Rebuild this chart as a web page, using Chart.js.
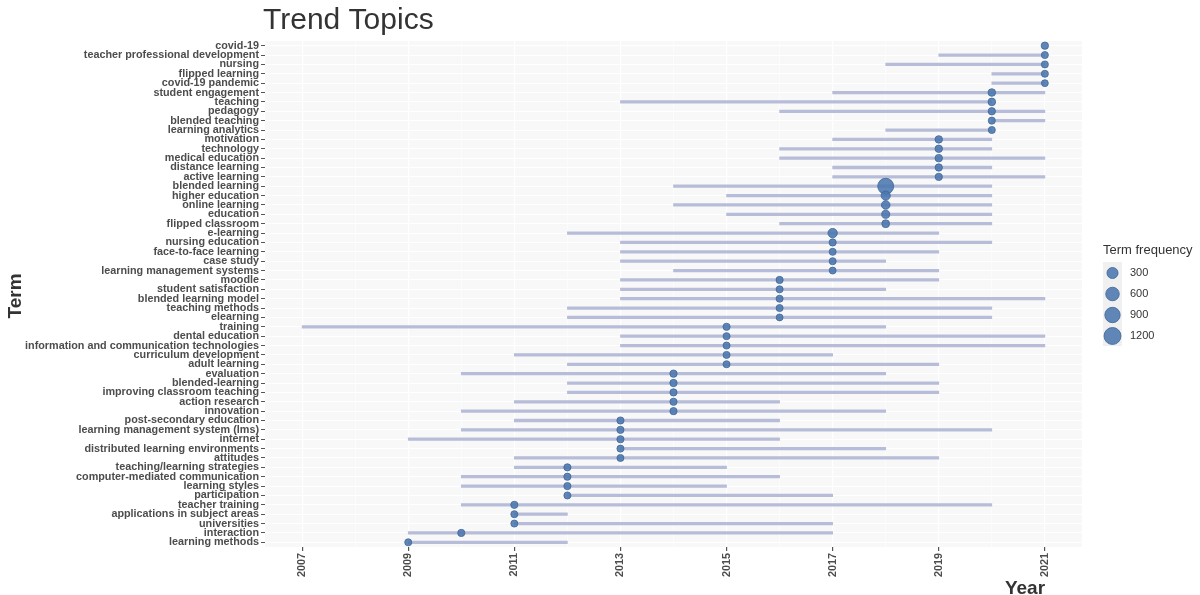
<!DOCTYPE html>
<html>
<head>
<meta charset="utf-8">
<script src="https://cdn.jsdelivr.net/npm/chart.js@4.4.1/dist/chart.umd.min.js"></script>
<style>
  body { margin: 0; background: #fff; }
  #wrap { width: 1200px; height: 595px; position: relative; }
</style>
</head>
<body>
<div id="wrap"><canvas id="trend"></canvas></div>
<script>
const terms = [
    'covid-19', 'teacher professional development', 'nursing', 'flipped learning', 'covid-19 pandemic',
    'student engagement', 'teaching', 'pedagogy', 'blended teaching', 'learning analytics',
    'motivation', 'technology', 'medical education', 'distance learning', 'active learning',
    'blended learning', 'higher education', 'online learning', 'education', 'flipped classroom',
    'e-learning', 'nursing education', 'face-to-face learning', 'case study', 'learning management systems',
    'moodle', 'student satisfaction', 'blended learning model', 'teaching methods', 'elearning',
    'training', 'dental education', 'information and communication technologies', 'curriculum development', 'adult learning',
    'evaluation', 'blended-learning', 'improving classroom teaching', 'action research', 'innovation',
    'post-secondary education', 'learning management system (lms)', 'internet', 'distributed learning environments', 'attitudes',
    'teaching/learning strategies', 'computer-mediated communication', 'learning styles', 'participation', 'teacher training',
    'applications in subject areas', 'universities', 'interaction', 'learning methods'
];

// first quartile year, median year, third quartile year
const startYear = [
    2021, 2019, 2018, 2020, 2020,
    2017, 2013, 2016, 2020, 2018,
    2017, 2016, 2016, 2017, 2017,
    2014, 2015, 2014, 2015, 2016,
    2012, 2013, 2013, 2013, 2014,
    2013, 2013, 2013, 2012, 2012,
    2007, 2013, 2013, 2011, 2012,
    2010, 2012, 2012, 2011, 2010,
    2011, 2010, 2009, 2013, 2011,
    2011, 2010, 2010, 2012, 2010,
    2011, 2011, 2009, 2009
];
const medianYear = [
    2021, 2021, 2021, 2021, 2021,
    2020, 2020, 2020, 2020, 2020,
    2019, 2019, 2019, 2019, 2019,
    2018, 2018, 2018, 2018, 2018,
    2017, 2017, 2017, 2017, 2017,
    2016, 2016, 2016, 2016, 2016,
    2015, 2015, 2015, 2015, 2015,
    2014, 2014, 2014, 2014, 2014,
    2013, 2013, 2013, 2013, 2013,
    2012, 2012, 2012, 2012, 2011,
    2011, 2011, 2010, 2009
];
const endYear = [
    2021, 2021, 2021, 2021, 2021,
    2021, 2020, 2021, 2021, 2020,
    2020, 2020, 2021, 2020, 2021,
    2020, 2020, 2020, 2020, 2020,
    2019, 2020, 2019, 2018, 2019,
    2019, 2018, 2021, 2020, 2020,
    2018, 2021, 2021, 2017, 2019,
    2018, 2019, 2019, 2016, 2018,
    2016, 2020, 2016, 2018, 2019,
    2015, 2016, 2015, 2017, 2020,
    2012, 2017, 2017, 2012
];
const freq = [
    40, 30, 30, 30, 25,
    50, 50, 40, 30, 30,
    45, 45, 45, 40, 40,
    1000, 140, 100, 70, 60,
    150, 35, 30, 30, 25,
    35, 30, 30, 30, 25,
    35, 30, 30, 30, 30,
    40, 40, 35, 35, 35,
    35, 35, 35, 30, 30,
    35, 35, 35, 30, 35,
    30, 30, 35, 30
];

const gridYears = [2007, 2008, 2009, 2010, 2011, 2012, 2013, 2014, 2015, 2016, 2017, 2018, 2019, 2020, 2021];
const tickYears = [2007, 2009, 2011, 2013, 2015, 2017, 2019, 2021];
const legendFreq = [300, 600, 900, 1200];

const FONT = '"Liberation Sans", Arial, sans-serif';
const POINT_FILL = 'rgba(74, 118, 174, 0.88)';
const POINT_EDGE = '#3d6597';

function sizeOf(f) {
    return 2.6 + 0.17 * Math.sqrt(f);
}

const decorations = {
    id: 'decorations',
    beforeDraw(chart) {
        const { ctx, chartArea: a } = chart;
        ctx.save();
        ctx.fillStyle = '#f8f8f8';
        ctx.fillRect(a.left, a.top, a.right - a.left, a.bottom - a.top);
        ctx.restore();
    },
    afterDraw(chart) {
        const ctx = chart.ctx;
        ctx.save();
        ctx.fillStyle = '#333';
        ctx.textBaseline = 'alphabetic';
        ctx.textAlign = 'left';
        ctx.font = '30px ' + FONT;
        ctx.fillText('Trend Topics', 263, 29);

        ctx.font = 'bold 19px ' + FONT;
        ctx.textAlign = 'center';
        ctx.fillText('Year', 1025, 594);

        ctx.save();
        ctx.translate(21, 296);
        ctx.rotate(-Math.PI / 2);
        ctx.fillText('Term', 0, 0);
        ctx.restore();

        // size legend
        ctx.textAlign = 'left';
        ctx.textBaseline = 'middle';
        ctx.font = '13px ' + FONT;
        ctx.fillText('Term frequency', 1103, 250);
        ctx.fillStyle = '#f0f0f0';
        ctx.fillRect(1103, 262, 19, 84);
        const ys = [273, 294, 315, 336];
        ctx.font = '11px ' + FONT;
        legendFreq.forEach((f, i) => {
            ctx.beginPath();
            ctx.arc(1112.5, ys[i], sizeOf(f), 0, Math.PI * 2);
            ctx.fillStyle = POINT_FILL;
            ctx.fill();
            ctx.lineWidth = 0.8;
            ctx.strokeStyle = POINT_EDGE;
            ctx.stroke();
            ctx.fillStyle = '#333';
            ctx.fillText(String(f), 1130, ys[i]);
        });
        ctx.restore();
    }
};

new Chart(document.getElementById('trend'), {
    type: 'bar',
    data: {
        labels: terms,
        datasets: [
            {
                type: 'scatter',
                data: terms.map((t, i) => ({ x: medianYear[i], y: t })),
                pointRadius: freq.map(sizeOf),
                pointBackgroundColor: POINT_FILL,
                pointBorderColor: POINT_EDGE,
                pointBorderWidth: 0.8,
                xAxisID: 'x',
                yAxisID: 'y',
                order: 0
            },
            {
                type: 'bar',
                indexAxis: 'y',
                data: terms.map((t, i) => [startYear[i], endYear[i]]),
                backgroundColor: '#b7bdd8',
                borderWidth: 0,
                borderSkipped: false,
                barThickness: 2.6,
                xAxisID: 'x',
                yAxisID: 'y',
                order: 1
            }
        ]
    },
    options: {
        responsive: true,
        maintainAspectRatio: false,
        animation: false,
        layout: { padding: { top: 41, right: 118, left: 0, bottom: 0 } },
        plugins: {
            legend: { display: false },
            tooltip: { enabled: false },
            title: { display: false }
        },
        scales: {
            x: {
                type: 'linear',
                position: 'bottom',
                offset: false,
                min: 2006.3,
                max: 2021.7,
                afterBuildTicks: (scale) => {
                    scale.ticks = gridYears.map(v => ({ value: v }));
                },
                afterFit: (scale) => { scale.height = 48; },
                border: { display: false },
                grid: {
                    offset: false,
                    color: '#ffffff',
                    lineWidth: (c) => tickYears.includes(c.tick && c.tick.value) ? 1.2 : 0.6,
                    tickColor: (c) => tickYears.includes(c.tick && c.tick.value) ? '#555' : 'rgba(0,0,0,0)',
                    tickLength: 4
                },
                ticks: {
                    autoSkip: false,
                    minRotation: 90,
                    maxRotation: 90,
                    padding: 2,
                    color: '#4d4d4d',
                    font: { family: FONT, size: 10.8, weight: 'bold' },
                    callback: (v) => tickYears.includes(v) ? String(v) : ''
                }
            },
            y: {
                type: 'category',
                labels: terms,
                offset: true,
                afterFit: (scale) => { scale.width = 265; },
                border: { display: false },
                grid: {
                    offset: false,
                    color: '#ffffff',
                    lineWidth: 1,
                    tickColor: '#555',
                    tickLength: 4
                },
                ticks: {
                    autoSkip: false,
                    padding: 2,
                    color: '#4d4d4d',
                    font: { family: FONT, size: 10.8, weight: 'bold' }
                }
            }
        }
    },
    plugins: [decorations]
});
</script>
</body>
</html>
